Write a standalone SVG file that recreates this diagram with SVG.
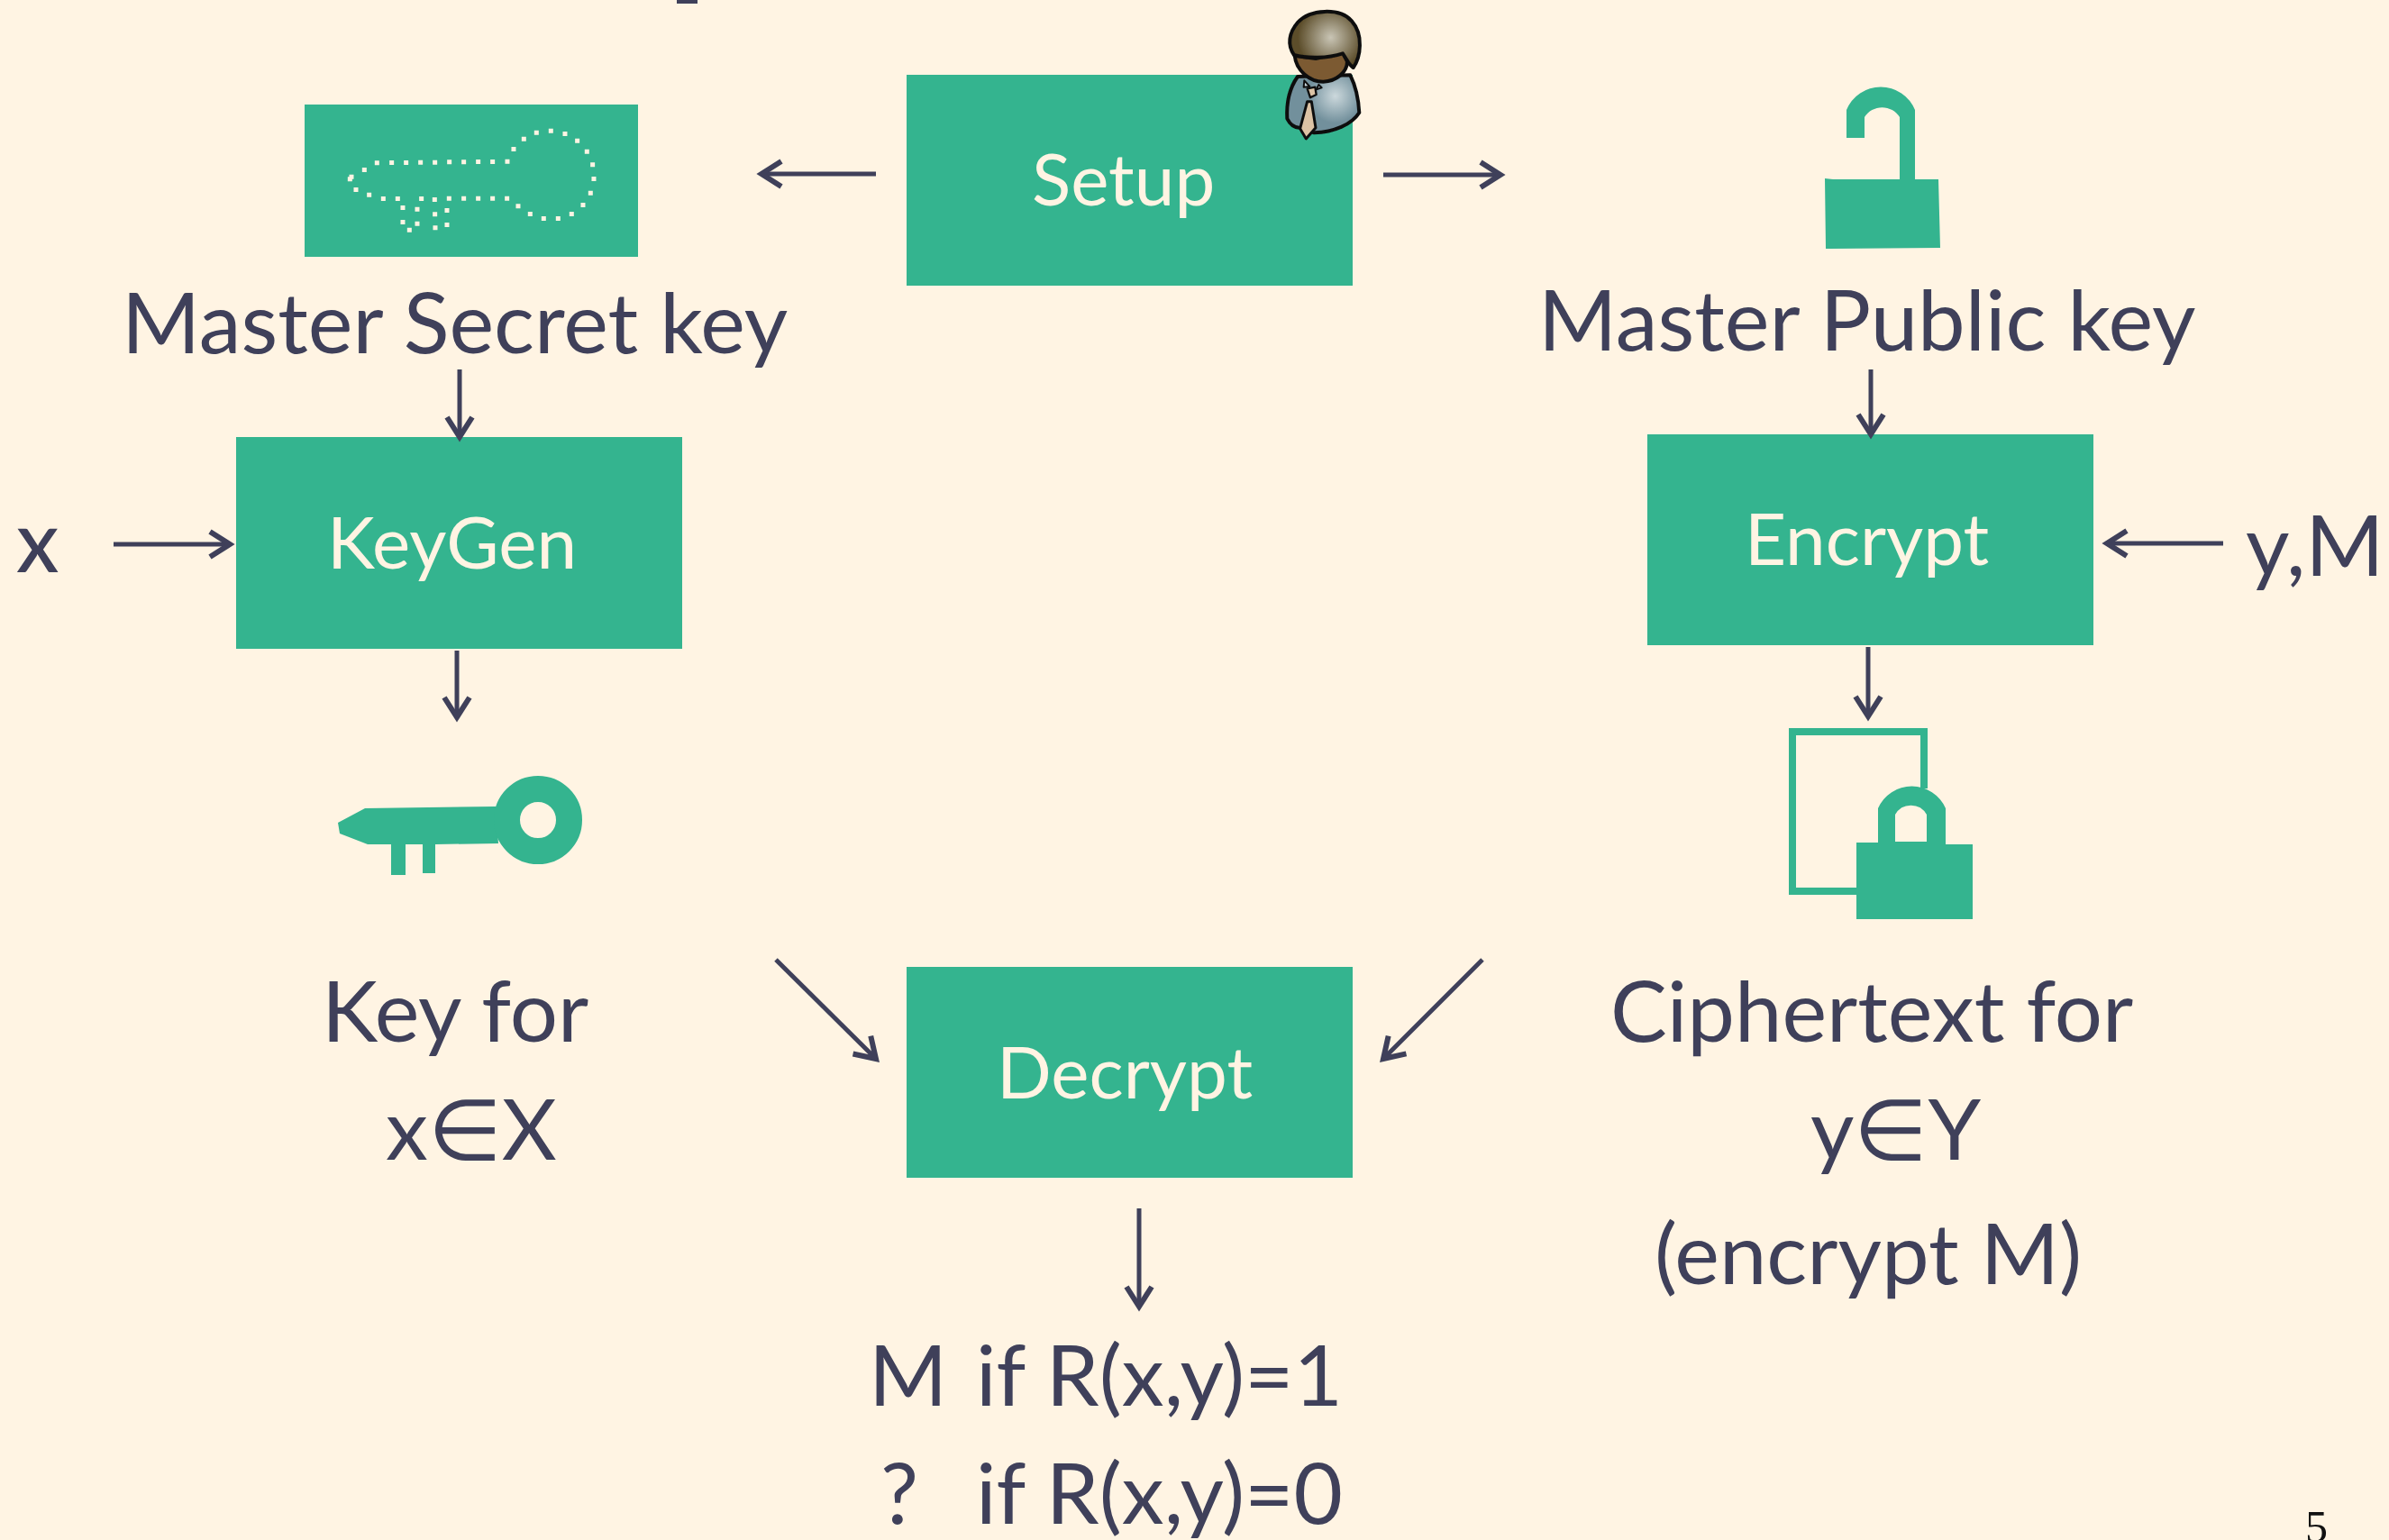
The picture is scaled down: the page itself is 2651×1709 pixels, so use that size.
<svg xmlns="http://www.w3.org/2000/svg" width="2651" height="1709" viewBox="0 0 2651 1709">
<style>
.g{fill:#34b48f}
text{font-family:"Lato","Noto Sans",sans-serif;fill:#3f405a}
.l{font-size:94px}
.b{font-size:80px;fill:#fff4e3}
.a{fill:none;stroke:#3f405a;stroke-width:5;marker-end:url(#ah)}
</style>
<defs>
<marker id="ah" markerUnits="userSpaceOnUse" markerWidth="36" markerHeight="36" refX="26" refY="18" orient="auto">
<path d="M4 4L26 18L4 32" fill="none" stroke="#3f405a" stroke-width="6"/>
</marker>
<radialGradient id="hair" gradientUnits="userSpaceOnUse" cx="530" cy="125" r="110"><stop offset="0" stop-color="#c9c5b5"/><stop offset="1" stop-color="#5c4d2a"/></radialGradient>
<radialGradient id="suit" gradientUnits="userSpaceOnUse" cx="545" cy="320" r="90"><stop offset="0" stop-color="#ccd8dc"/><stop offset="1" stop-color="#72909c"/></radialGradient>
<filter id="soft" x="-10%" y="-10%" width="120%" height="120%"><feGaussianBlur stdDeviation="1"/></filter>
</defs>
<rect width="2651" height="1709" fill="#fff4e3"/>
<rect x="751" y="0" width="23" height="4" fill="#3f405a"/>

<g id="setup"><rect class="g" x="1006" y="83" width="495" height="234"/><text class="b" x="1145" y="228">Setup</text></g>
<g id="person" transform="translate(1300,0) scale(.3333)" filter="url(#soft)" stroke="#111" stroke-width="12" stroke-linejoin="round">
<path d="M420 255C395 290 382 340 385 395C395 415 410 425 425 425L475 442C540 440 600 415 625 375C622 320 610 280 595 250Z" fill="url(#suit)"/>
<path d="M410 185C415 235 460 272 505 272C550 270 585 240 585 205L570 175L480 195Z" fill="#7b5a32"/>
<path d="M442 268L460 288L440 290ZM490 282L500 292L482 298Z" fill="#c8d5da" stroke-width="6"/>
<path d="M452 295L478 290L482 315L462 325Z" fill="#dcc3a5" stroke-width="7"/>
<path d="M452 338L466 338L480 425L448 462L428 428Z" fill="#dcc3a5" stroke-width="9"/>
<path d="M408 183C385 150 390 110 420 75C460 30 560 25 600 70C640 115 630 190 605 225C590 215 585 200 570 178C520 195 450 195 408 183Z" fill="url(#hair)"/>
</g>

<g id="msk">
<rect class="g" x="338" y="116" width="370" height="169"/>
<g transform="translate(320,100) scale(.3333)">
<path fill="none" stroke="#fff4e3" stroke-width="15" stroke-linecap="butt" transform="translate(0,0)" stroke-dasharray="15 0" d="M729 230v15M680 231v15M632 231v15M584 232v15M536 232v15M488 233v15M440 233v15M392 234v15M344 234v15M295 235v15M253 258v15M210 281v15M205 289v15M225 324v15M269 341v15M316 354v15M364 354v15M381 384v15M381 432v15M403 458v15M429 437v15M429 389v15M443 354v15M487 357v15M488 406v15M489 451v15M528 441v15M528 393v15M535 353v15M584 353v15M632 353v15M680 353v15M728 353v15M765 379v15M805 405v15M850 420v15M898 420v15M943 405v15M981 375v15M1006 335v15M1017 288v15M1013 241v15M994 197v15M962 161v15M921 138v15M874 128v15M826 134v15M784 155v15M750 189v15"/>
</g>
<text class="l" x="135" y="392">Master Secret key</text>
</g>

<g id="mpk">
<path class="g" d="M2025 198L2034 199H2108V130A23 23 0 0 0 2069 130V153H2049V122A41 41 0 0 1 2125 122V199H2151L2153 275L2026 276Z"/>
<text class="l" x="1707" y="389">Master Public key</text>
</g>

<g id="keygen"><rect class="g" x="262" y="485" width="495" height="235"/><text class="b" x="363" y="631">KeyGen</text></g>
<g id="encrypt"><rect class="g" x="1828" y="482" width="495" height="234"/><text class="b" x="1936" y="627">Encrypt</text></g>
<g id="decrypt"><rect class="g" x="1006" y="1073" width="495" height="234"/><text class="b" x="1106" y="1219">Decrypt</text></g>

<g id="x"><text class="l" x="18" y="635" font-weight="500">x</text></g>
<g id="ym"><text class="l" x="2492" y="639">y,M</text></g>

<g id="key">
<path class="g" d="M375 913L405 897L550 895L553 936L483 937V969H469V937H450V971H434V937H408L377 925Z"/>
<circle cx="597" cy="910" r="34.5" fill="none" stroke="#34b48f" stroke-width="29"/>
<text class="l" x="357" y="1156">Key for</text>
<text class="l" x="428" y="1287">x∈X</text>
</g>

<g id="cipher">
<path d="M2060 989H1989V812H2135V875" fill="none" stroke="#34b48f" stroke-width="8"/>
<path class="g" d="M2060 935L2084 935V897A41 41 0 0 1 2159 897V937L2189 937V1020H2060ZM2103 934L2138 934V904A20 20 0 0 0 2103 904Z" fill-rule="evenodd"/>
<text class="l" x="1787" y="1156">Ciphertext for</text>
<text class="l" x="2009" y="1287">y∈Y</text>
<text class="l" x="1836" y="1425">(encrypt M)</text>
</g>

<g id="result">
<text class="l" x="964" y="1560">M</text>
<text class="l" x="1083" y="1560">if R(x,y)=1</text>
<text class="l" x="977" y="1691">?</text>
<text class="l" x="1083" y="1691">if R(x,y)=0</text>
</g>
<text x="2558" y="1711" style="font-family:'Liberation Serif',serif;font-size:50px;fill:#111">5</text>

<g id="connectors">
<path class="a" d="M972 193H845"/>
<path class="a" d="M1535 194H1665"/>
<path class="a" d="M510 410V485"/>
<path class="a" d="M2076 410V482"/>
<path class="a" d="M126 604H255"/>
<path class="a" d="M507 722V796"/>
<path class="a" d="M2467 603H2338"/>
<path class="a" d="M2073 718V795"/>
<path class="a" d="M861 1065L972 1175"/>
<path class="a" d="M1645 1065L1535 1175"/>
<path class="a" d="M1264 1341V1450"/>
</g>
</svg>
